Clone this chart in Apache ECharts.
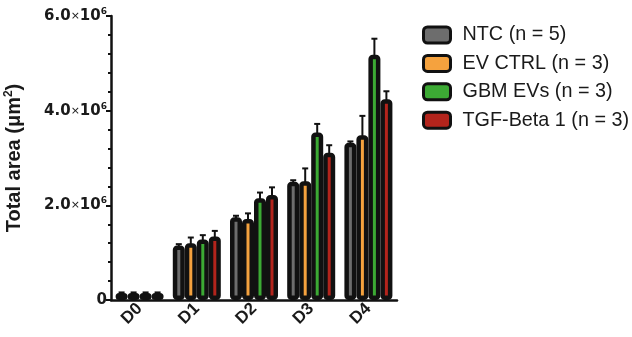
<!DOCTYPE html>
<html>
<head>
<meta charset="utf-8">
<script src="https://cdn.jsdelivr.net/npm/echarts@6/dist/echarts.min.js"></script>
<style>html,body{margin:0;padding:0;background:#fff}#c{width:632px;height:337px}</style>
</head>
<body>
<div id="c"></div>
<script>
const categories = ['D0', 'D1', 'D2', 'D3', 'D4'];
const seriesNames = ['NTC (n = 5)', 'EV CTRL (n = 3)', 'GBM EVs (n = 3)', 'TGF-Beta 1 (n = 3)'];
const ntc = [0.15e6, 1.15e6, 1.75e6, 2.50e6, 3.32e6];
const evCtrl = [0.15e6, 1.20e6, 1.71e6, 2.51e6, 3.48e6];
const gbmEvs = [0.15e6, 1.28e6, 2.15e6, 3.54e6, 5.18e6];
const tgfBeta = [0.15e6, 1.34e6, 2.22e6, 3.11e6, 4.24e6];
const ntcErr = [0.01e6, 0.03e6, 0.03e6, 0.03e6, 0.03e6];
const evCtrlErr = [0.01e6, 0.12e6, 0.12e6, 0.27e6, 0.41e6];
const gbmEvsErr = [0.01e6, 0.09e6, 0.12e6, 0.18e6, 0.34e6];
const tgfBetaErr = [0.01e6, 0.12e6, 0.16e6, 0.16e6, 0.17e6];
const yTicks = [0, 2e6, 4e6, 6e6];

const values = [ntc, evCtrl, gbmEvs, tgfBeta];
const errs = [ntcErr, evCtrlErr, gbmEvsErr, tgfBetaErr];
const colors = ['#6d6d6d', '#f5a23e', '#3caa34', '#b3241c'];
const BAR_W = 12, PITCH = 12;
const FONT = 'Liberation Sans, Arial, sans-serif';
const TICKFONT = 'DejaVu Sans, sans-serif';

const chart = echarts.init(document.getElementById('c'));
const series = [];
values.forEach((vals, i) => {
  series.push({
    name: seriesNames[i], type: 'bar', data: vals,
    barWidth: BAR_W, barGap: '0%',
    itemStyle: { color: colors[i], borderColor: '#111', borderWidth: 4.5, borderRadius: 2 },
    z: 2
  });
});
values.forEach((vals, i) => {
  const offset = (i - 1.5) * PITCH;
  series.push({
    type: 'custom', name: seriesNames[i] + ' err', z: 3,
    data: vals.map((v, k) => [k, v, errs[i][k]]),
    renderItem: function (params, api) {
      const p = api.coord([api.value(0), api.value(1)]);
      const t = api.coord([api.value(0), api.value(1) + api.value(2)]);
      const x = p[0] + offset;
      return {
        type: 'group', children: [
          { type: 'line', shape: { x1: x, y1: p[1] + 2, x2: x, y2: t[1] }, style: { stroke: '#111', lineWidth: 2 } },
          { type: 'line', shape: { x1: x - 3, y1: t[1], x2: x + 3, y2: t[1] }, style: { stroke: '#111', lineWidth: 2 } }
        ]
      };
    },
    silent: true, tooltip: { show: false }
  });
});

chart.setOption({
  backgroundColor: '#fff',
  animation: false,
  grid: { left: 111, right: 235, top: 16, bottom: 37 },
  legend: {
    data: seriesNames, orient: 'vertical', left: 422, top: 25, padding: 0,
    itemWidth: 27, itemHeight: 16, itemGap: 8.4,
    itemStyle: { borderColor: '#111', borderWidth: 3 },
    icon: 'roundRect',
    textStyle: { fontFamily: FONT, fontSize: 19.8, color: '#1a1a1a', lineHeight: 19, padding: [0, 0, 0, 7] }
  },
  xAxis: {
    type: 'category', data: categories,
    axisLine: { lineStyle: { color: '#111', width: 2.5 } },
    axisTick: { alignWithLabel: true, length: 5, lineStyle: { color: '#111', width: 2 } },
    axisLabel: { rotate: 45, margin: 6, fontFamily: FONT, fontWeight: 'bold', fontSize: 17, color: '#1a1a1a' }
  },
  yAxis: {
    type: 'value', min: 0, max: 6e6, interval: 2e6,
    name: '{a|Total area (μm}{s|2}{a|)}', nameLocation: 'middle', nameGap: 86,
    nameTextStyle: {
      rich: {
        a: { fontFamily: FONT, fontWeight: 'bold', fontSize: 20, color: '#1a1a1a', lineHeight: 22 },
        s: { fontFamily: FONT, fontWeight: 'bold', fontSize: 12, color: '#1a1a1a', lineHeight: 12, verticalAlign: 'top' }
      }
    },
    axisLine: { show: true, lineStyle: { color: '#111', width: 2.5 } },
    axisTick: { show: true, length: 5, lineStyle: { color: '#111', width: 2 } },
    minorTick: { show: true, splitNumber: 5, length: 3, lineStyle: { color: '#111', width: 2 } },
    splitLine: { show: false },
    axisLabel: {
      margin: 4,
      formatter: function (v) {
        if (v === 0) return '{n|0}';
        return '{n|' + (v / 1e6).toFixed(1) + '}{x|×}{n|10}{s|6}';
      },
      rich: {
        n: { fontFamily: TICKFONT, fontWeight: 'bold', fontSize: 15, color: '#1a1a1a', lineHeight: 18 },
        x: { fontFamily: TICKFONT, fontSize: 11, color: '#1a1a1a', lineHeight: 18 },
        s: { fontFamily: TICKFONT, fontWeight: 'bold', fontSize: 9, color: '#1a1a1a', lineHeight: 9, verticalAlign: 'top' }
      }
    }
  },
  series: series
});
</script>
</body>
</html>
